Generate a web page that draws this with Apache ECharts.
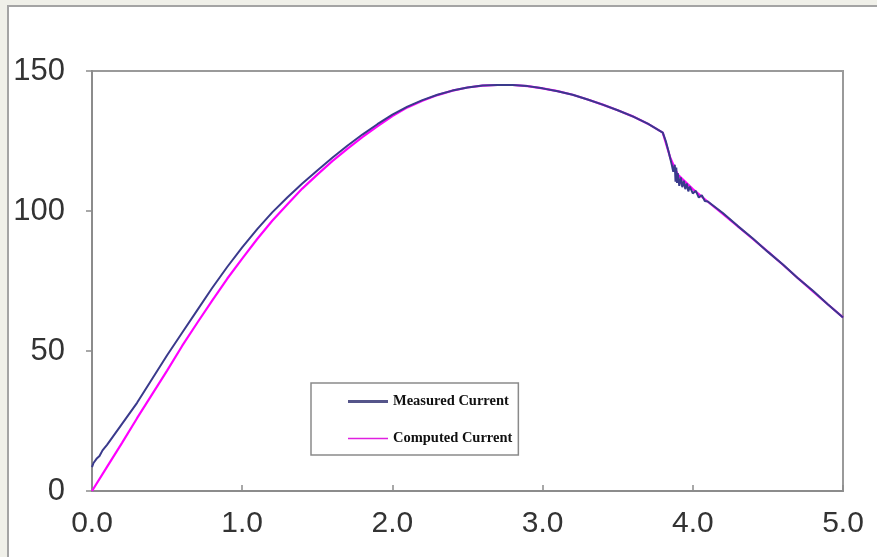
<!DOCTYPE html>
<html>
<head>
<meta charset="utf-8">
<script src="https://cdn.jsdelivr.net/npm/echarts@6/dist/echarts.min.js"></script>
<style>
  html, body { margin: 0; padding: 0; width: 877px; height: 557px; overflow: hidden; background: #f0f0e9; }
  #panel { position: absolute; left: 7px; top: 5px; width: 900px; height: 600px; background: #ffffff;
           border-left: 2px solid #a4a4a4; border-top: 2px solid #a4a4a4; }
  #chart { position: absolute; left: 0; top: 0; width: 877px; height: 557px; }
</style>
</head>
<body>
<div id="panel"></div>
<div id="chart"></div>
<script>
// Measured current (time, current)
const measuredX = [0.0, 0.01, 0.02, 0.03, 0.05, 0.07, 0.1, 0.2, 0.3, 0.4, 0.5, 0.6, 0.7, 0.8, 0.9,
  1.0, 1.1, 1.2, 1.3, 1.4, 1.5, 1.6, 1.7, 1.8, 1.9, 2.0, 2.1, 2.2, 2.3, 2.4, 2.5, 2.6, 2.7, 2.8, 2.9,
  3.0, 3.1, 3.2, 3.3, 3.4, 3.5, 3.6, 3.7, 3.8, 3.82, 3.84, 3.86, 3.87, 3.88, 3.885, 3.89, 3.895, 3.9,
  3.91, 3.92, 3.93, 3.94, 3.95, 3.96, 3.97, 3.98, 4.0, 4.02, 4.04, 4.06, 4.08, 4.1, 4.2, 4.3, 4.4,
  4.5, 4.6, 4.7, 4.8, 4.9, 5.0];
const measuredY = [8.5, 10.0, 9.5, 11.5, 12.5, 14.5, 16.5, 24.0, 31.5, 40.0, 48.5, 56.5, 64.5, 72.5, 80.0,
  87.0, 93.5, 99.5, 104.8, 109.8, 114.5, 119.0, 123.3, 127.3, 131.0, 134.4, 137.3, 139.6, 141.5, 143.0, 144.1, 144.8, 145.0, 145.0, 144.6,
  143.8, 142.8, 141.5, 139.8, 138.0, 136.0, 133.8, 131.2, 128.0, 125.0, 121.0, 116.5, 114.0, 116.5, 110.5, 115.5, 110.0, 113.5,
  109.0, 112.0, 108.5, 110.8, 107.8, 109.8, 107.0, 108.7, 106.3, 107.2, 104.8, 105.6, 103.6, 103.4, 99.3, 94.6, 90.2,
  85.4, 80.9, 76.0, 71.5, 66.6, 62.0];

// Computed current (time, current)
const computedX = [0.0, 0.1, 0.2, 0.3, 0.4, 0.5, 0.6, 0.7, 0.8, 0.9, 1.0, 1.1, 1.2, 1.3, 1.4, 1.5, 1.6, 1.7,
  1.8, 1.9, 2.0, 2.1, 2.2, 2.3, 2.4, 2.5, 2.6, 2.7, 2.8, 2.9, 3.0, 3.1, 3.2, 3.3, 3.4, 3.5, 3.6, 3.7,
  3.8, 3.85, 3.9, 4.0, 4.1, 4.2, 4.3, 4.4, 4.5, 4.6, 4.7, 4.8, 4.9, 5.0];
const computedY = [0.0, 8.6, 17.2, 26.0, 34.5, 43.0, 51.8, 60.0, 68.0, 75.8, 83.0, 90.0, 96.5, 102.3, 108.0, 113.0, 117.8, 122.2,
  126.4, 130.2, 133.9, 137.0, 139.4, 141.4, 143.0, 144.1, 144.8, 145.0, 145.0, 144.6, 143.8, 142.8, 141.5, 139.8, 138.0, 136.0, 133.8, 131.2,
  128.0, 119.0, 113.0, 107.8, 103.3, 99.0, 94.5, 90.0, 85.5, 80.8, 76.0, 71.3, 66.6, 62.0];

// Axis ticks
const xTicks = { min: 0, max: 5, interval: 1 };
const yTicks = { min: 0, max: 150, interval: 50 };
const seriesNames = ['Measured Current', 'Computed Current'];

const measured = measuredX.map((x, i) => [x, measuredY[i]]);
const computed = computedX.map((x, i) => [x, computedY[i]]);

const chart = echarts.init(document.getElementById('chart'), null, { renderer: 'canvas' });
chart.setOption({
  backgroundColor: 'transparent',
  animation: false,
  grid: { left: 92, right: 34, top: 71, bottom: 66, show: true, borderColor: '#9a9a9a', borderWidth: 2, backgroundColor: 'transparent' },
  xAxis: {
    type: 'value', min: xTicks.min, max: xTicks.max, interval: xTicks.interval,
    axisLine: { show: true, lineStyle: { color: '#8c8c8c', width: 2 } },
    axisTick: { show: true, inside: true, length: 6, lineStyle: { color: '#8c8c8c', width: 1.5 } },
    splitLine: { show: false },
    axisLabel: { margin: 18, fontFamily: 'Liberation Sans', fontSize: 30, color: '#333333',
      formatter: v => v.toFixed(1) }
  },
  yAxis: {
    type: 'value', min: yTicks.min, max: yTicks.max, interval: yTicks.interval,
    axisLine: { show: true, lineStyle: { color: '#8c8c8c', width: 2 } },
    axisTick: { show: true, inside: false, length: 6, lineStyle: { color: '#8c8c8c', width: 1.5 } },
    splitLine: { show: false },
    axisLabel: { margin: 27, fontFamily: 'Liberation Sans', fontSize: 31, color: '#333333' }
  },
  legend: {
    orient: 'vertical', left: 311, top: 383,
    data: [
      { name: seriesNames[0], icon: 'path://M0,0H40V3H0Z', itemStyle: { color: '#55558a' } },
      { name: seriesNames[1], icon: 'path://M0,0H40V1.6H0Z', itemStyle: { color: '#e020e0' } }
    ],
    backgroundColor: '#ffffff', borderColor: '#8a8a8a', borderWidth: 1.5,
    padding: [11, 6, 9, 37],
    itemGap: 22, itemWidth: 40, itemHeight: 14,
    textStyle: { fontFamily: 'Liberation Serif', fontWeight: 'bold', fontSize: 14.5, lineHeight: 14, color: '#111111' }
  },
  series: [
    {
      name: seriesNames[1], type: 'line', data: computed, symbol: 'none', z: 2,
      lineStyle: { color: '#ff00ff', width: 2.2 }, itemStyle: { color: '#ff00ff' }
    },
    {
      name: seriesNames[0], type: 'line', data: measured, symbol: 'none', z: 3,
      lineStyle: { color: '#3a3a8c', width: 2 }, itemStyle: { color: '#3a3a8c' }
    }
  ]
});
</script>
</body>
</html>
